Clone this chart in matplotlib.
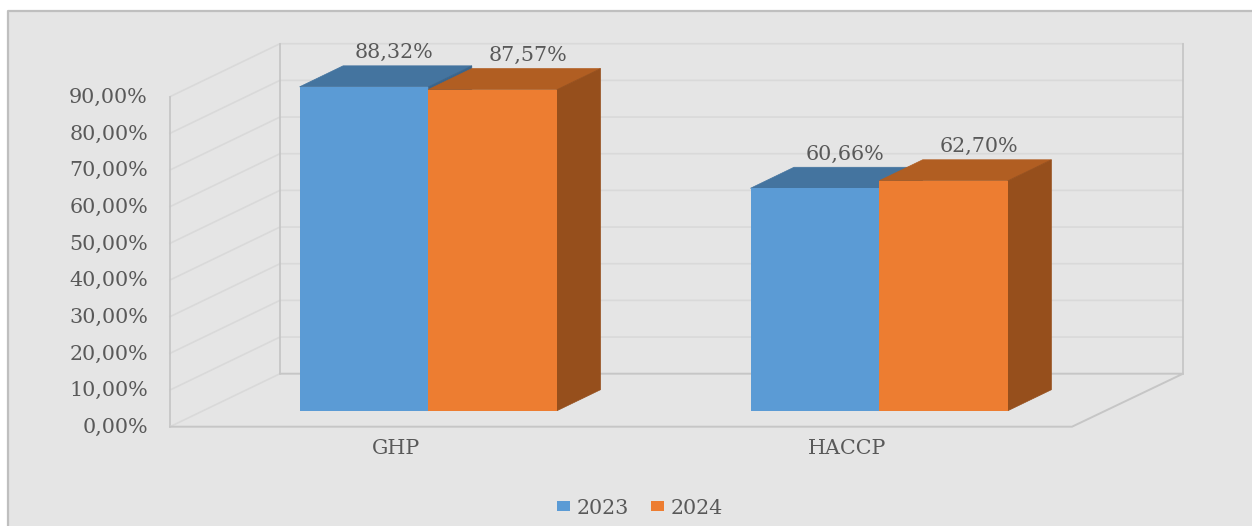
import matplotlib
matplotlib.use('Agg')
import matplotlib.pyplot as plt
from matplotlib.patches import Polygon, Rectangle

categories = ['GHP', 'HACCP']
series_names = ['2023', '2024']
values_2023 = [88.32, 60.66]
values_2024 = [87.57, 62.70]
labels_2023 = ['88,32%', '60,66%']
labels_2024 = ['87,57%', '62,70%']
tick_values = [0, 10, 20, 30, 40, 50, 60, 70, 80, 90]
tick_labels = ['0,00%', '10,00%', '20,00%', '30,00%', '40,00%',
               '50,00%', '60,00%', '70,00%', '80,00%', '90,00%']

plt.rcParams['font.family'] = ['DejaVu Serif']
TXT = '#595959'
GRID = '#d9d9d9'
FRAME = '#c6c6c6'
FS = 14.9

K = 3.667  # pixels per percent
Y0 = 410.7  # pixel row of the bars' zero line


def val(py):
    return (Y0 - py) / K


fig = plt.figure(figsize=(12.52, 5.26), dpi=100)
ax = fig.add_axes([0, 0, 1, 1])
ax.set_xlim(0, 1252)
ax.set_ylim(val(526), val(0))
ax.axis('off')

# panel
ax.add_patch(Rectangle((8, val(526)), 1244, val(11) - val(526), fc='#e5e5e5', ec='none', zorder=0))
ax.plot([8, 8, 1252], [val(526), val(11), val(11)], color='#bfbfbf', lw=1.6, zorder=1)

# walls and floor
front_x, back_x, right_back_x, right_front_x = 170, 280, 1183, 1072
front_0, back_0 = val(426.7), val(373.7)
for t in tick_values[1:]:
    ax.plot([front_x, back_x, right_back_x], [front_0 + t, back_0 + t, back_0 + t], color=GRID, lw=1.2, zorder=2)
ax.plot([front_x, front_x], [front_0, front_0 + 90], color=FRAME, lw=1.3, zorder=3)
ax.plot([back_x, back_x], [back_0, back_0 + 90], color=FRAME, lw=1.3, zorder=3)
ax.plot([right_back_x, right_back_x], [back_0, back_0 + 90], color=FRAME, lw=1.3, zorder=3)
ax.plot([front_x, back_x], [front_0, back_0], color=GRID, lw=1.2, zorder=3)
ax.plot([back_x, right_back_x, right_front_x, front_x], [back_0, back_0, front_0, front_0], color=FRAME, lw=1.4, zorder=3)

for t, lab in zip(tick_values, tick_labels):
    ax.text(148, front_0 + t - 0.2, lab, ha='right', va='center', color=TXT, fontsize=FS)

# bars
group_left = [299.6, 750.5]
bar_w = 128.7
depth_x = 43.5
depth_y = 21 / K


def draw_bar(x, v, front, top, side, z):
    ax.bar(x, v, bar_w, align='edge', color=front, zorder=z + 1)
    ax.add_patch(Polygon([(x, v), (x + bar_w, v), (x + bar_w + depth_x, v + depth_y), (x + depth_x, v + depth_y)],
                         fc=top, ec=top, lw=0.5, zorder=z))
    ax.add_patch(Polygon([(x + bar_w, 0), (x + bar_w + depth_x, depth_y), (x + bar_w + depth_x, v + depth_y), (x + bar_w, v)],
                         fc=side, ec=side, lw=0.5, zorder=z))


for i in range(2):
    draw_bar(group_left[i], values_2023[i], '#5b9bd5', '#44749f', '#3a658c', 4)
    draw_bar(group_left[i] + bar_w, values_2024[i], '#ed7d31', '#b15e22', '#964f1c', 6)
    ax.text(group_left[i] + bar_w / 2 + 30, values_2023[i] + depth_y + 13 / K, labels_2023[i],
            ha='center', va='center', color=TXT, fontsize=FS, zorder=9)
    ax.text(group_left[i] + bar_w * 1.5 + 35, values_2024[i] + depth_y + 13 / K, labels_2024[i],
            ha='center', va='center', color=TXT, fontsize=FS, zorder=9)
    ax.text(group_left[i] + bar_w - 32, val(448.5), categories[i], ha='center', va='center', color=TXT, fontsize=FS)

# legend
handles = [Rectangle((0, 0), 1, 1, fc='#5b9bd5'), Rectangle((0, 0), 1, 1, fc='#ed7d31')]
ax.legend(handles, series_names, ncol=2, frameon=False, loc='center', bbox_to_anchor=(640, val(508)),
          bbox_transform=ax.transData, fontsize=FS, labelcolor=TXT, handlelength=0.62, handleheight=0.38,
          handletextpad=0.35, columnspacing=1.05, borderpad=0, borderaxespad=0)

fig.savefig('out.png', dpi=100, facecolor='white')
